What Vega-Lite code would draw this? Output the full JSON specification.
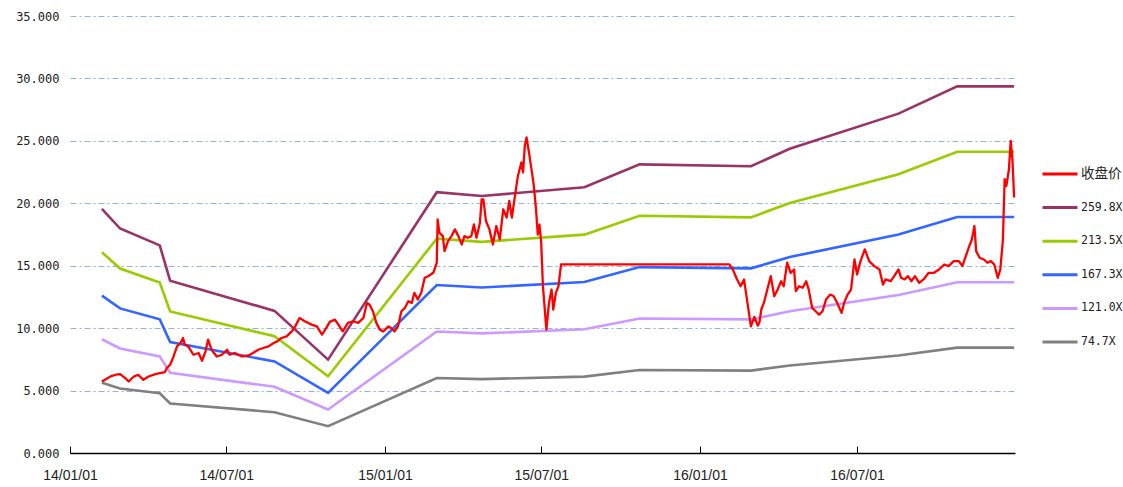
{
 "$schema": "https://vega.github.io/schema/vega-lite/v6.json",
 "width": 945,
 "height": 437,
 "autosize": {"type": "none"},
 "padding": {"left": 70, "top": 16, "right": 108, "bottom": 34},
 "background": "white",
 "config": {"view": {"stroke": null}},
 "datasets": {
  "bands": [
   {"s":"259.8X","d":"2014-02-07","v":19.56},{"s":"213.5X","d":"2014-02-07","v":16.08},{"s":"167.3X","d":"2014-02-07","v":12.60},{"s":"121.0X","d":"2014-02-07","v":9.11},{"s":"74.7X","d":"2014-02-07","v":5.62},
   {"s":"259.8X","d":"2014-02-28","v":17.98},{"s":"213.5X","d":"2014-02-28","v":14.77},{"s":"167.3X","d":"2014-02-28","v":11.58},{"s":"121.0X","d":"2014-02-28","v":8.37},{"s":"74.7X","d":"2014-02-28","v":5.17},
   {"s":"259.8X","d":"2014-04-15","v":16.63},{"s":"213.5X","d":"2014-04-15","v":13.66},{"s":"167.3X","d":"2014-04-15","v":10.71},{"s":"121.0X","d":"2014-04-15","v":7.74},{"s":"74.7X","d":"2014-04-15","v":4.78},
   {"s":"259.8X","d":"2014-04-27","v":13.80},{"s":"213.5X","d":"2014-04-27","v":11.34},{"s":"167.3X","d":"2014-04-27","v":8.88},{"s":"121.0X","d":"2014-04-27","v":6.43},{"s":"74.7X","d":"2014-04-27","v":3.97},
   {"s":"259.8X","d":"2014-08-26","v":11.38},{"s":"213.5X","d":"2014-08-26","v":9.35},{"s":"167.3X","d":"2014-08-26","v":7.33},{"s":"121.0X","d":"2014-08-26","v":5.30},{"s":"74.7X","d":"2014-08-26","v":3.27},
   {"s":"259.8X","d":"2014-10-27","v":7.48},{"s":"213.5X","d":"2014-10-27","v":6.15},{"s":"167.3X","d":"2014-10-27","v":4.82},{"s":"121.0X","d":"2014-10-27","v":3.48},{"s":"74.7X","d":"2014-10-27","v":2.15},
   {"s":"259.8X","d":"2015-03-02","v":20.89},{"s":"213.5X","d":"2015-03-02","v":17.17},{"s":"167.3X","d":"2015-03-02","v":13.45},{"s":"121.0X","d":"2015-03-02","v":9.73},{"s":"74.7X","d":"2015-03-02","v":6.01},
   {"s":"259.8X","d":"2015-04-23","v":20.58},{"s":"213.5X","d":"2015-04-23","v":16.91},{"s":"167.3X","d":"2015-04-23","v":13.25},{"s":"121.0X","d":"2015-04-23","v":9.58},{"s":"74.7X","d":"2015-04-23","v":5.92},
   {"s":"259.8X","d":"2015-08-20","v":21.28},{"s":"213.5X","d":"2015-08-20","v":17.49},{"s":"167.3X","d":"2015-08-20","v":13.70},{"s":"121.0X","d":"2015-08-20","v":9.91},{"s":"74.7X","d":"2015-08-20","v":6.12},
   {"s":"259.8X","d":"2015-10-23","v":23.12},{"s":"213.5X","d":"2015-10-23","v":19.00},{"s":"167.3X","d":"2015-10-23","v":14.89},{"s":"121.0X","d":"2015-10-23","v":10.77},{"s":"74.7X","d":"2015-10-23","v":6.65},
   {"s":"259.8X","d":"2016-02-29","v":22.97},{"s":"213.5X","d":"2016-02-29","v":18.87},{"s":"167.3X","d":"2016-02-29","v":14.79},{"s":"121.0X","d":"2016-02-29","v":10.70},{"s":"74.7X","d":"2016-02-29","v":6.60},
   {"s":"259.8X","d":"2016-04-14","v":24.37},{"s":"213.5X","d":"2016-04-14","v":20.03},{"s":"167.3X","d":"2016-04-14","v":15.69},{"s":"121.0X","d":"2016-04-14","v":11.35},{"s":"74.7X","d":"2016-04-14","v":7.01},
   {"s":"259.8X","d":"2016-08-18","v":27.18},{"s":"213.5X","d":"2016-08-18","v":22.33},{"s":"167.3X","d":"2016-08-18","v":17.50},{"s":"121.0X","d":"2016-08-18","v":12.66},{"s":"74.7X","d":"2016-08-18","v":7.81},
   {"s":"259.8X","d":"2016-10-25","v":29.36},{"s":"213.5X","d":"2016-10-25","v":24.13},{"s":"167.3X","d":"2016-10-25","v":18.90},{"s":"121.0X","d":"2016-10-25","v":13.67},{"s":"74.7X","d":"2016-10-25","v":8.44},
   {"s":"259.8X","d":"2016-12-30","v":29.36},{"s":"213.5X","d":"2016-12-30","v":24.13},{"s":"167.3X","d":"2016-12-30","v":18.90},{"s":"121.0X","d":"2016-12-30","v":13.67},{"s":"74.7X","d":"2016-12-30","v":8.44}
  ],
  "price": [
   {"s":"收盘价","d":"2014-02-07","v":5.73},{"s":"收盘价","d":"2014-02-17","v":6.13},{"s":"收盘价","d":"2014-02-23","v":6.27},{"s":"收盘价","d":"2014-02-28","v":6.32},{"s":"收盘价","d":"2014-03-06","v":6.0},{"s":"收盘价","d":"2014-03-10","v":5.73},{"s":"收盘价","d":"2014-03-16","v":6.13},{"s":"收盘价","d":"2014-03-21","v":6.27},{"s":"收盘价","d":"2014-03-27","v":5.86},{"s":"收盘价","d":"2014-04-02","v":6.13},{"s":"收盘价","d":"2014-04-10","v":6.32},{"s":"收盘价","d":"2014-04-15","v":6.4},{"s":"收盘价","d":"2014-04-21","v":6.48},{"s":"收盘价","d":"2014-04-23","v":6.8},{"s":"收盘价","d":"2014-04-27","v":7.07},
   {"s":"收盘价","d":"2014-05-01","v":7.73},{"s":"收盘价","d":"2014-05-05","v":8.54},{"s":"收盘价","d":"2014-05-09","v":8.81},{"s":"收盘价","d":"2014-05-12","v":9.21},{"s":"收盘价","d":"2014-05-14","v":8.67},{"s":"收盘价","d":"2014-05-18","v":8.54},{"s":"收盘价","d":"2014-05-24","v":7.87},{"s":"收盘价","d":"2014-05-30","v":8.01},{"s":"收盘价","d":"2014-06-03","v":7.39},{"s":"收盘价","d":"2014-06-07","v":8.14},{"s":"收盘价","d":"2014-06-10","v":9.08},{"s":"收盘价","d":"2014-06-14","v":8.27},{"s":"收盘价","d":"2014-06-20","v":7.73},{"s":"收盘价","d":"2014-06-26","v":7.87},
   {"s":"收盘价","d":"2014-07-02","v":8.27},{"s":"收盘价","d":"2014-07-05","v":7.87},{"s":"收盘价","d":"2014-07-11","v":8.01},{"s":"收盘价","d":"2014-07-19","v":7.73},{"s":"收盘价","d":"2014-07-27","v":7.81},{"s":"收盘价","d":"2014-08-01","v":8.01},{"s":"收盘价","d":"2014-08-07","v":8.27},{"s":"收盘价","d":"2014-08-13","v":8.41},{"s":"收盘价","d":"2014-08-19","v":8.54},{"s":"收盘价","d":"2014-08-25","v":8.81},{"s":"收盘价","d":"2014-08-29","v":8.94},{"s":"收盘价","d":"2014-09-03","v":9.21},{"s":"收盘价","d":"2014-09-09","v":9.34},{"s":"收盘价","d":"2014-09-15","v":9.74},{"s":"收盘价","d":"2014-09-19","v":10.14},{"s":"收盘价","d":"2014-09-24","v":10.82},{"s":"收盘价","d":"2014-09-30","v":10.55},
   {"s":"收盘价","d":"2014-10-08","v":10.28},{"s":"收盘价","d":"2014-10-14","v":10.14},{"s":"收盘价","d":"2014-10-20","v":9.48},{"s":"收盘价","d":"2014-10-25","v":10.02},{"s":"收盘价","d":"2014-10-29","v":10.5},{"s":"收盘价","d":"2014-11-04","v":10.68},{"s":"收盘价","d":"2014-11-08","v":10.28},{"s":"收盘价","d":"2014-11-13","v":9.74},{"s":"收盘价","d":"2014-11-19","v":10.42},{"s":"收盘价","d":"2014-11-25","v":10.55},{"s":"收盘价","d":"2014-12-01","v":10.42},{"s":"收盘价","d":"2014-12-07","v":10.82},{"s":"收盘价","d":"2014-12-11","v":12.02},{"s":"收盘价","d":"2014-12-14","v":11.89},{"s":"收盘价","d":"2014-12-18","v":11.35},{"s":"收盘价","d":"2014-12-22","v":10.42},{"s":"收盘价","d":"2014-12-26","v":9.88},{"s":"收盘价","d":"2014-12-30","v":9.74},
   {"s":"收盘价","d":"2015-01-05","v":10.14},{"s":"收盘价","d":"2015-01-08","v":10.01},{"s":"收盘价","d":"2015-01-12","v":9.74},{"s":"收盘价","d":"2015-01-16","v":10.14},{"s":"收盘价","d":"2015-01-20","v":11.35},{"s":"收盘价","d":"2015-01-24","v":11.62},{"s":"收盘价","d":"2015-01-28","v":12.15},{"s":"收盘价","d":"2015-02-01","v":12.02},{"s":"收盘价","d":"2015-02-04","v":12.83},{"s":"收盘价","d":"2015-02-08","v":12.29},{"s":"收盘价","d":"2015-02-12","v":12.83},{"s":"收盘价","d":"2015-02-16","v":14.03},{"s":"收盘价","d":"2015-02-20","v":14.16},{"s":"收盘价","d":"2015-02-26","v":14.43},
   {"s":"收盘价","d":"2015-03-02","v":15.24},{"s":"收盘价","d":"2015-03-03","v":18.71},{"s":"收盘价","d":"2015-03-05","v":17.65},{"s":"收盘价","d":"2015-03-09","v":17.37},{"s":"收盘价","d":"2015-03-11","v":16.17},{"s":"收盘价","d":"2015-03-15","v":16.97},{"s":"收盘价","d":"2015-03-19","v":17.37},{"s":"收盘价","d":"2015-03-23","v":17.91},{"s":"收盘价","d":"2015-03-27","v":17.37},{"s":"收盘价","d":"2015-03-31","v":16.7},{"s":"收盘价","d":"2015-04-03","v":17.37},{"s":"收盘价","d":"2015-04-07","v":17.24},{"s":"收盘价","d":"2015-04-11","v":17.37},{"s":"收盘价","d":"2015-04-14","v":18.31},{"s":"收盘价","d":"2015-04-17","v":17.24},{"s":"收盘价","d":"2015-04-21","v":18.45},{"s":"收盘价","d":"2015-04-23","v":20.32},{"s":"收盘价","d":"2015-04-25","v":20.32},{"s":"收盘价","d":"2015-04-28","v":18.58},
   {"s":"收盘价","d":"2015-05-02","v":17.91},{"s":"收盘价","d":"2015-05-06","v":16.7},{"s":"收盘价","d":"2015-05-10","v":18.18},{"s":"收盘价","d":"2015-05-14","v":17.1},{"s":"收盘价","d":"2015-05-18","v":19.52},{"s":"收盘价","d":"2015-05-22","v":18.85},{"s":"收盘价","d":"2015-05-25","v":20.19},{"s":"收盘价","d":"2015-05-28","v":18.85},{"s":"收盘价","d":"2015-05-31","v":20.32},{"s":"收盘价","d":"2015-06-04","v":22.19},{"s":"收盘价","d":"2015-06-08","v":23.27},{"s":"收盘价","d":"2015-06-10","v":22.47},{"s":"收盘价","d":"2015-06-12","v":24.6},{"s":"收盘价","d":"2015-06-14","v":25.27},{"s":"收盘价","d":"2015-06-17","v":24.0},{"s":"收盘价","d":"2015-06-22","v":21.66},{"s":"收盘价","d":"2015-06-23","v":21.0},{"s":"收盘价","d":"2015-06-25","v":19.52},{"s":"收盘价","d":"2015-06-27","v":17.5},{"s":"收盘价","d":"2015-06-29","v":18.3},
   {"s":"收盘价","d":"2015-07-01","v":16.84},{"s":"收盘价","d":"2015-07-03","v":13.36},{"s":"收盘价","d":"2015-07-07","v":9.88},{"s":"收盘价","d":"2015-07-10","v":12.02},{"s":"收盘价","d":"2015-07-13","v":13.09},{"s":"收盘价","d":"2015-07-15","v":11.49},{"s":"收盘价","d":"2015-07-18","v":12.83},{"s":"收盘价","d":"2015-07-21","v":13.36},{"s":"收盘价","d":"2015-07-24","v":15.1},{"s":"收盘价","d":"2016-02-04","v":15.1},
   {"s":"收盘价","d":"2016-02-08","v":14.7},{"s":"收盘价","d":"2016-02-13","v":13.9},{"s":"收盘价","d":"2016-02-17","v":13.36},{"s":"收盘价","d":"2016-02-21","v":13.9},{"s":"收盘价","d":"2016-02-25","v":12.02},{"s":"收盘价","d":"2016-02-29","v":10.14},{"s":"收盘价","d":"2016-03-04","v":10.9},{"s":"收盘价","d":"2016-03-08","v":10.2},{"s":"收盘价","d":"2016-03-10","v":10.5},{"s":"收盘价","d":"2016-03-12","v":11.49},{"s":"收盘价","d":"2016-03-15","v":12.02},{"s":"收盘价","d":"2016-03-19","v":13.09},{"s":"收盘价","d":"2016-03-23","v":14.16},{"s":"收盘价","d":"2016-03-27","v":12.56},{"s":"收盘价","d":"2016-03-31","v":13.09},
   {"s":"收盘价","d":"2016-04-04","v":13.76},{"s":"收盘价","d":"2016-04-07","v":13.36},{"s":"收盘价","d":"2016-04-11","v":15.24},{"s":"收盘价","d":"2016-04-15","v":14.43},{"s":"收盘价","d":"2016-04-19","v":14.7},{"s":"收盘价","d":"2016-04-21","v":12.96},{"s":"收盘价","d":"2016-04-25","v":13.36},{"s":"收盘价","d":"2016-04-29","v":13.23},{"s":"收盘价","d":"2016-05-03","v":13.76},{"s":"收盘价","d":"2016-05-06","v":13.09},{"s":"收盘价","d":"2016-05-10","v":11.62},{"s":"收盘价","d":"2016-05-14","v":11.35},{"s":"收盘价","d":"2016-05-18","v":11.08},{"s":"收盘价","d":"2016-05-22","v":11.35},{"s":"收盘价","d":"2016-05-26","v":12.29},{"s":"收盘价","d":"2016-05-31","v":12.69},
   {"s":"收盘价","d":"2016-06-04","v":12.56},{"s":"收盘价","d":"2016-06-08","v":12.02},{"s":"收盘价","d":"2016-06-13","v":11.22},{"s":"收盘价","d":"2016-06-16","v":12.02},{"s":"收盘价","d":"2016-06-20","v":12.69},{"s":"收盘价","d":"2016-06-24","v":13.09},{"s":"收盘价","d":"2016-06-28","v":15.5},{"s":"收盘价","d":"2016-07-01","v":14.3},{"s":"收盘价","d":"2016-07-05","v":15.37},{"s":"收盘价","d":"2016-07-10","v":16.31},{"s":"收盘价","d":"2016-07-15","v":15.37},{"s":"收盘价","d":"2016-07-21","v":14.97},{"s":"收盘价","d":"2016-07-27","v":14.7},{"s":"收盘价","d":"2016-07-31","v":13.49},
   {"s":"收盘价","d":"2016-08-03","v":13.9},{"s":"收盘价","d":"2016-08-09","v":13.76},{"s":"收盘价","d":"2016-08-13","v":14.16},{"s":"收盘价","d":"2016-08-18","v":14.7},{"s":"收盘价","d":"2016-08-21","v":14.03},{"s":"收盘价","d":"2016-08-25","v":13.9},{"s":"收盘价","d":"2016-08-29","v":14.16},{"s":"收盘价","d":"2016-09-02","v":13.76},{"s":"收盘价","d":"2016-09-06","v":14.16},{"s":"收盘价","d":"2016-09-11","v":13.63},{"s":"收盘价","d":"2016-09-16","v":13.9},{"s":"收盘价","d":"2016-09-22","v":14.43},{"s":"收盘价","d":"2016-09-28","v":14.43},
   {"s":"收盘价","d":"2016-10-04","v":14.7},{"s":"收盘价","d":"2016-10-10","v":15.1},{"s":"收盘价","d":"2016-10-15","v":14.97},{"s":"收盘价","d":"2016-10-21","v":15.37},{"s":"收盘价","d":"2016-10-27","v":15.37},{"s":"收盘价","d":"2016-10-31","v":14.97},{"s":"收盘价","d":"2016-11-04","v":15.77},{"s":"收盘价","d":"2016-11-08","v":16.57},{"s":"收盘价","d":"2016-11-11","v":17.1},{"s":"收盘价","d":"2016-11-14","v":18.18},{"s":"收盘价","d":"2016-11-16","v":16.17},{"s":"收盘价","d":"2016-11-20","v":15.64},{"s":"收盘价","d":"2016-11-25","v":15.5},{"s":"收盘价","d":"2016-11-29","v":15.24},
   {"s":"收盘价","d":"2016-12-03","v":15.37},{"s":"收盘价","d":"2016-12-07","v":15.1},{"s":"收盘价","d":"2016-12-11","v":14.03},{"s":"收盘价","d":"2016-12-14","v":14.7},{"s":"收盘价","d":"2016-12-17","v":17.1},{"s":"收盘价","d":"2016-12-19","v":21.93},{"s":"收盘价","d":"2016-12-21","v":21.39},{"s":"收盘价","d":"2016-12-24","v":22.73},{"s":"收盘价","d":"2016-12-26","v":25.0},{"s":"收盘价","d":"2016-12-28","v":23.53},{"s":"收盘价","d":"2016-12-30","v":20.46}
  ]
 },
 "encoding": {
  "x": {
   "field": "d", "type": "temporal", "title": null,
   "scale": {"type": "utc", "domain": [{"year": 2014, "month": 1, "date": 1, "utc": true}, {"year": 2016, "month": 12, "date": 31, "utc": true}]},
   "axis": {
    "values": [
     {"year": 2014, "month": 1, "date": 1, "utc": true},
     {"year": 2014, "month": 7, "date": 1, "utc": true},
     {"year": 2015, "month": 1, "date": 1, "utc": true},
     {"year": 2015, "month": 7, "date": 1, "utc": true},
     {"year": 2016, "month": 1, "date": 1, "utc": true},
     {"year": 2016, "month": 7, "date": 1, "utc": true}
    ],
    "labelExpr": "utcFormat(datum.value, '%y/%m/%d')",
    "labelFont": "Liberation Sans", "labelFontSize": 14, "labelColor": "#222222",
    "labelFlush": false, "labelOverlap": false,
    "domainColor": "#000000", "domainWidth": 1.5,
    "tickColor": "#000000", "tickSize": -7, "tickWidth": 1,
    "labelPadding": 22, "grid": false
   }
  },
  "y": {
   "field": "v", "type": "quantitative", "title": null,
   "scale": {"domain": [0, 35], "nice": false, "zero": true},
   "axis": {
    "values": [0, 5, 10, 15, 20, 25, 30, 35], "format": ".3f",
    "labelFont": "DejaVu Sans Mono", "labelFontSize": 12, "labelColor": "#222222",
    "domain": false, "ticks": false, "labelPadding": 11,
    "grid": true, "gridColor": "#8DB4E2", "gridDash": [6, 3, 2, 3], "gridWidth": 1
   }
  },
  "color": {
   "field": "s", "type": "nominal",
   "scale": {
    "domain": ["收盘价", "259.8X", "213.5X", "167.3X", "121.0X", "74.7X"],
    "range": ["#FF0000", "#993366", "#99CC00", "#3366FF", "#CC99FF", "#808080"]
   },
   "legend": {
    "title": null, "orient": "none", "legendX": 971, "legendY": 150,
    "symbolType": "stroke", "symbolSize": 1225, "symbolStrokeWidth": 3,
    "clipHeight": 16, "rowPadding": 17.6, "labelLimit": 200,
    "labelFont": "DejaVu Sans Mono, Noto Sans CJK SC", "labelFontSize": 11.5, "labelColor": "#222222", "labelOffset": 2,
    "encode": {"labels": {"update": {"fontSize": {"signal": "datum.label === '收盘价' ? 13.5 : 11.5"}}}}
   }
  }
 },
 "layer": [
  {"data": {"name": "bands"}, "mark": {"type": "line", "strokeWidth": 2.6}},
  {"data": {"name": "price"}, "mark": {"type": "line", "strokeWidth": 2.3, "strokeJoin": "round"}}
 ]
}
